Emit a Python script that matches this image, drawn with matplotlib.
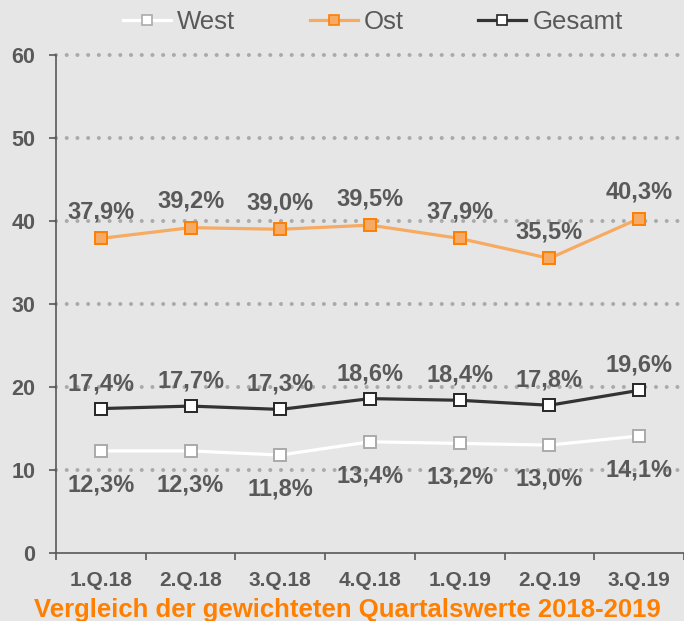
import matplotlib
matplotlib.use("Agg")
import matplotlib.pyplot as plt
from matplotlib.lines import Line2D

# Data
quarters = ["1.Q.18", "2.Q.18", "3.Q.18", "4.Q.18", "1.Q.19", "2.Q.19", "3.Q.19"]
west = [12.3, 12.3, 11.8, 13.4, 13.2, 13.0, 14.1]
ost = [37.9, 39.2, 39.0, 39.5, 37.9, 35.5, 40.3]
gesamt = [17.4, 17.7, 17.3, 18.6, 18.4, 17.8, 19.6]
yticks = [0, 10, 20, 30, 40, 50, 60]
title = "Vergleich der gewichteten Quartalswerte 2018-2019"

bg = "#e6e6e6"
txt = "#595959"
plt.rcParams["font.family"] = ["Liberation Sans", "DejaVu Sans"]

fig = plt.figure(figsize=(6.84, 6.21), dpi=100, facecolor=bg)
ax = fig.add_axes([56 / 684, 1 - 553 / 621, 1 - 56 / 684, (553 - 55) / 621])
ax.set_facecolor(bg)

x = list(range(len(quarters)))

# Dotted grid lines
for yv in yticks[1:]:
    ax.axhline(yv, color="#aaaaaa", linestyle=(0, (0.01, 2.65)), linewidth=2.9,
               dash_capstyle="round", zorder=1, clip_on=False)

# Series
ax.plot(x, west, color="white", lw=2.3, marker="s", ms=8.5,
        mfc="white", mec="#aaaaaa", mew=1.4, zorder=3)
ax.plot(x, ost, color="#f7aa62", lw=2.3, marker="s", ms=8.5,
        mfc="#f5ab66", mec="#ff7f00", mew=1.4, zorder=3)
ax.plot(x, gesamt, color="#333333", lw=2.3, marker="s", ms=8.5,
        mfc="white", mec="#262626", mew=1.4, zorder=3)

# Value labels
def fmt(v):
    return f"{v:.1f}%".replace(".", ",")

for xi, v in zip(x, ost):
    ax.annotate(fmt(v), (xi, v), xytext=(0, 19), textcoords="offset points",
                ha="center", va="center", fontsize=17, fontweight="bold", color=txt, zorder=4)
for xi, v in zip(x, gesamt):
    ax.annotate(fmt(v), (xi, v), xytext=(0, 18), textcoords="offset points",
                ha="center", va="center", fontsize=17, fontweight="bold", color=txt, zorder=4)
for xi, v in zip(x, west):
    ax.annotate(fmt(v), (xi, v), xytext=(0, -24.5), textcoords="offset points",
                ha="center", va="center", fontsize=17, fontweight="bold", color=txt, zorder=4)

# Axes
ax.set_xlim(-0.5, len(quarters) - 0.5)
ax.set_ylim(0, 60)
ax.set_yticks(yticks)
ax.set_yticklabels([str(t) for t in yticks], fontsize=15.5, fontweight="bold", color=txt)
ax.set_xticks([i - 0.5 for i in range(len(quarters) + 1)])
ax.set_xticklabels([])
ax.set_xticks(x, minor=True)
ax.set_xticklabels(quarters, minor=True, fontsize=15, fontweight="bold", color=txt)
ax.tick_params(axis="x", which="major", length=5, width=1.2, color=txt, direction="out")
ax.tick_params(axis="x", which="minor", length=0, pad=13)
ax.tick_params(axis="y", length=5, width=1.2, color=txt, pad=10)
for s in ["top", "right"]:
    ax.spines[s].set_visible(False)
for s in ["left", "bottom"]:
    ax.spines[s].set_color(txt)
    ax.spines[s].set_linewidth(1.2)

# Legend
handles = [
    Line2D([], [], color="white", lw=2.3, marker="s", ms=7, mfc="white", mec="#aaaaaa", mew=1.2),
    Line2D([], [], color="#f7aa62", lw=2.3, marker="s", ms=7, mfc="#f5ab66", mec="#ff7f00", mew=1.2),
    Line2D([], [], color="#333333", lw=2.3, marker="s", ms=7, mfc="white", mec="#262626", mew=1.2),
]
fig.legend(handles, ["West", "Ost", "Gesamt"], loc="center", bbox_to_anchor=(373 / 684, 1 - 22 / 621),
           ncol=3, frameon=False, fontsize=18.5, labelcolor=txt, handlelength=1.87,
           handletextpad=0.23, columnspacing=2.9, borderpad=0)

fig.text(347 / 684, 1 - 617 / 621, title, ha="center", va="baseline", fontsize=18.5,
         fontweight="bold", color="#ff7f00")

fig.savefig("out.png", dpi=100, facecolor=bg)
